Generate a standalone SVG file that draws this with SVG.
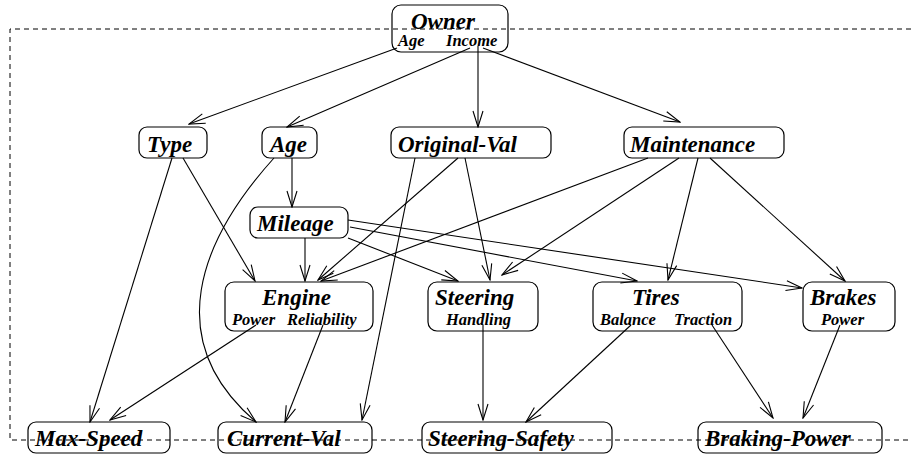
<svg xmlns="http://www.w3.org/2000/svg" width="911" height="456" viewBox="0 0 911 456">
<style>
.box{fill:none;stroke:#000;stroke-width:1.2}
.lbl{font-family:"Liberation Serif","Times New Roman",serif;font-weight:bold;font-style:italic;font-size:23px;fill:#000}
.sub{font-family:"Liberation Serif","Times New Roman",serif;font-weight:bold;font-style:italic;font-size:16.5px;fill:#000}
.e{fill:none;stroke:#000;stroke-width:1.1;marker-end:url(#arr)}
.frame{fill:none;stroke:#000;stroke-width:1;stroke-dasharray:5,4}
</style>
<defs>
<marker id="arr" viewBox="-17 -6 18 12" refX="0" refY="0" markerWidth="18" markerHeight="12" markerUnits="userSpaceOnUse" orient="auto">
<path d="M-16,-5 L0,0 L-16,5" fill="none" stroke="#000" stroke-width="1.1"/>
</marker>
</defs>
<rect width="911" height="456" fill="#fff"/>
<path class="frame" d="M911,29 L10,29 L10,440 L911,440"/>
<g id="edges">
<path class="e" d="M397,48 L189,124"/>
<path class="e" d="M470,48 L287,127"/>
<path class="e" d="M478,46 L478,127"/>
<path class="e" d="M483,48 L680,122"/>
<path class="e" d="M172,158 L90,422"/>
<path class="e" d="M183,158 L255,281"/>
<path class="e" d="M292,158 L292,207"/>
<path class="e" d="M274,158 C200,240 160,340 256,422"/>
<path class="e" d="M415,158 L362,420"/>
<path class="e" d="M458,158 L318,280"/>
<path class="e" d="M465,158 L490,280"/>
<path class="e" d="M648,158 L321,281"/>
<path class="e" d="M679,158 L502,275"/>
<path class="e" d="M698,158 L668,280"/>
<path class="e" d="M710,158 L845,281"/>
<path class="e" d="M305,238 L305,281"/>
<path class="e" d="M348,238 L458,281"/>
<path class="e" d="M350,227 L637,281"/>
<path class="e" d="M348,220 L802,288"/>
<path class="e" d="M256,325 L110,420"/>
<path class="e" d="M323,325 L285,422"/>
<path class="e" d="M483,325 L483,420"/>
<path class="e" d="M631,325 L526,422"/>
<path class="e" d="M712,325 L773,418"/>
<path class="e" d="M840,325 L803,418"/>
</g>
<g id="owner"><rect class="box" x="392" y="5" width="116" height="47" rx="9"/><text class="lbl" x="411" y="29">Owner</text><text class="sub" x="398" y="46">Age</text><text class="sub" x="446" y="46">Income</text></g>
<g id="type"><rect class="box" x="139" y="127" width="68" height="31" rx="8"/><text class="lbl" x="147" y="152">Type</text></g>
<g id="age"><rect class="box" x="262" y="127" width="55" height="31" rx="8"/><text class="lbl" x="270" y="152">Age</text></g>
<g id="original-val"><rect class="box" x="391" y="127" width="160" height="31" rx="8"/><text class="lbl" x="398" y="152">Original-Val</text></g>
<g id="maintenance"><rect class="box" x="624" y="127" width="160" height="31" rx="8"/><text class="lbl" x="630" y="152">Maintenance</text></g>
<g id="mileage"><rect class="box" x="250" y="207" width="98" height="31" rx="8"/><text class="lbl" x="257" y="231">Mileage</text></g>
<g id="engine"><rect class="box" x="225" y="282" width="148" height="49" rx="9"/><text class="lbl" x="262" y="305">Engine</text><text class="sub" x="232" y="325">Power</text><text class="sub" x="287" y="325">Reliability</text></g>
<g id="steering"><rect class="box" x="428" y="282" width="110" height="49" rx="9"/><text class="lbl" x="435" y="305">Steering</text><text class="sub" x="446" y="325">Handling</text></g>
<g id="tires"><rect class="box" x="593" y="282" width="149" height="49" rx="9"/><text class="lbl" x="632" y="305">Tires</text><text class="sub" x="600" y="325">Balance</text><text class="sub" x="674" y="325">Traction</text></g>
<g id="brakes"><rect class="box" x="803" y="282" width="92" height="49" rx="9"/><text class="lbl" x="810" y="305">Brakes</text><text class="sub" x="821" y="325">Power</text></g>
<g id="max-speed"><rect class="box" x="28" y="422" width="142" height="31" rx="8"/><text class="lbl" x="35" y="446">Max-Speed</text></g>
<g id="current-val"><rect class="box" x="218" y="422" width="154" height="31" rx="8"/><text class="lbl" x="227" y="446">Current-Val</text></g>
<g id="steering-safety"><rect class="box" x="422" y="422" width="190" height="31" rx="8"/><text class="lbl" x="428" y="446">Steering-Safety</text></g>
<g id="braking-power"><rect class="box" x="698" y="422" width="184" height="31" rx="8"/><text class="lbl" x="705" y="446">Braking-Power</text></g>
</svg>
